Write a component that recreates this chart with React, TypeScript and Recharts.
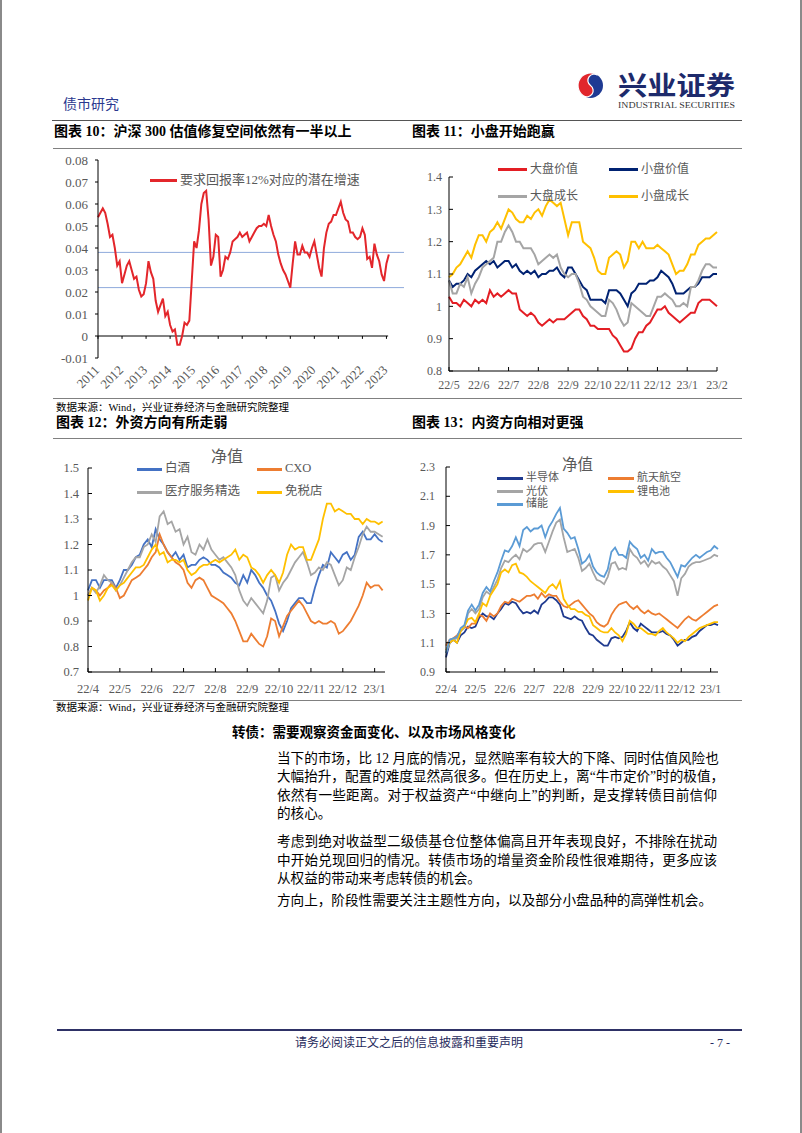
import React from 'react';
import { LineChart, Line, XAxis, YAxis, ReferenceLine } from 'recharts';

const SERIF = "'Liberation Serif', 'Noto Sans CJK SC', serif";
const INK = '#000000';
const GREY = '#595959';

// ---------- 图表10：沪深300估值修复空间 ----------
const years10 = ['2011', '2012', '2013', '2014', '2015', '2016', '2017', '2018', '2019', '2020', '2021', '2022', '2023'];
const yearTicks10 = [0, 10, 20, 30, 40, 50, 60, 70, 80, 90, 100, 110, 120];
// 每 0.1 年读一个点
const growth10 = [
  0.054, 0.056, 0.058, 0.056, 0.051, 0.045, 0.046, 0.040, 0.032, 0.034,
  0.024, 0.028, 0.032, 0.034, 0.030, 0.026, 0.027, 0.021, 0.018, 0.019,
  0.024, 0.034, 0.029, 0.026, 0.016, 0.011, 0.014, 0.017, 0.009, 0.011,
  0.005, 0.002, 0.003, -0.004, -0.004, 0.000, 0.006, 0.005, 0.007, 0.025,
  0.043, 0.040, 0.048, 0.060, 0.065, 0.066, 0.053, 0.032, 0.036, 0.046,
  0.045, 0.027, 0.030, 0.036, 0.035, 0.038, 0.043, 0.044, 0.045, 0.047,
  0.045, 0.046, 0.047, 0.043, 0.045, 0.047, 0.049, 0.050, 0.050, 0.051,
  0.050, 0.055, 0.050, 0.046, 0.043, 0.037, 0.033, 0.030, 0.028, 0.025,
  0.022, 0.033, 0.043, 0.037, 0.037, 0.041, 0.038, 0.038, 0.036, 0.040,
  0.043, 0.037, 0.031, 0.027, 0.040, 0.047, 0.051, 0.052, 0.055, 0.055,
  0.058, 0.061, 0.056, 0.053, 0.052, 0.047, 0.047, 0.045, 0.044, 0.045,
  0.049, 0.046, 0.035, 0.036, 0.031, 0.042, 0.037, 0.034, 0.028, 0.025,
  0.033, 0.037,
];
const yTicks10 = [-0.01, 0, 0.01, 0.02, 0.03, 0.04, 0.05, 0.06, 0.07, 0.08];
const yLabels10 = ['-0.01', '0', '0.01', '0.02', '0.03', '0.04', '0.05', '0.06', '0.07', '0.08'];
const refLevels10 = [0.038, 0.022];

// ---------- 图表11：小盘开始跑赢 ----------
const months11 = ['22/5', '22/6', '22/7', '22/8', '22/9', '22/10', '22/11', '22/12', '23/1', '23/2'];
const monthTicks11 = [0, 8, 16, 24, 32, 40, 48, 56, 64, 72];
// 每月 8 个点
const largeValue11 = [
  1.03, 1.01, 1.01, 1.00, 1.02, 1.01, 1.00, 1.02, 1.01, 1.02,
  1.01, 1.05, 1.03, 1.04, 1.03, 1.04, 1.05, 1.04, 1.04, 0.99,
  0.98, 0.97, 0.98, 0.97, 0.95, 0.94, 0.95, 0.96, 0.95, 0.96,
  0.96, 0.96, 0.97, 0.98, 0.99, 0.99, 0.97, 0.96, 0.94, 0.94,
  0.93, 0.93, 0.93, 0.93, 0.91, 0.90, 0.88, 0.86, 0.86, 0.87,
  0.90, 0.92, 0.92, 0.94, 0.95, 0.97, 0.99, 0.99, 1.00, 0.98,
  0.97, 0.96, 0.95, 0.96, 0.97, 0.98, 0.98, 1.01, 1.02, 1.02,
  1.02, 1.01, 1.00,
];
const smallValue11 = [
  1.08, 1.06, 1.07, 1.07, 1.08, 1.10, 1.09, 1.11, 1.12, 1.13,
  1.14, 1.13, 1.14, 1.12, 1.13, 1.14, 1.14, 1.12, 1.13, 1.11,
  1.10, 1.11, 1.10, 1.11, 1.09, 1.10, 1.10, 1.11, 1.11, 1.12,
  1.10, 1.09, 1.12, 1.12, 1.10, 1.08, 1.06, 1.05, 1.02, 1.02,
  1.02, 1.02, 1.01, 1.05, 1.05, 1.05, 1.04, 1.02, 1.00, 1.04,
  1.05, 1.07, 1.07, 1.07, 1.08, 1.08, 1.09, 1.11, 1.10, 1.09,
  1.07, 1.04, 1.04, 1.04, 1.05, 1.06, 1.06, 1.07, 1.09, 1.09,
  1.09, 1.10, 1.10,
];
const largeGrowth11 = [
  1.08, 1.04, 1.04, 1.07, 1.06, 1.09, 1.04, 1.07, 1.09, 1.12,
  1.13, 1.14, 1.15, 1.20, 1.20, 1.23, 1.25, 1.23, 1.20, 1.20,
  1.18, 1.18, 1.18, 1.16, 1.13, 1.14, 1.15, 1.16, 1.15, 1.16,
  1.12, 1.10, 1.09, 1.10, 1.10, 1.07, 1.03, 1.02, 1.00, 0.99,
  0.98, 0.97, 0.97, 1.02, 1.01, 0.99, 0.96, 0.94, 0.95, 1.01,
  1.00, 0.99, 0.98, 0.97, 0.97, 1.00, 1.03, 1.03, 1.04, 1.03,
  1.02, 1.00, 1.00, 1.01, 1.00, 1.06, 1.06, 1.08, 1.11, 1.13,
  1.13, 1.12, 1.12,
];
const smallGrowth11 = [
  1.09, 1.10, 1.12, 1.13, 1.15, 1.17, 1.15, 1.19, 1.22, 1.22,
  1.20, 1.23, 1.24, 1.26, 1.24, 1.27, 1.30, 1.29, 1.27, 1.26,
  1.26, 1.28, 1.27, 1.29, 1.30, 1.28, 1.31, 1.33, 1.32, 1.31,
  1.32, 1.27, 1.22, 1.26, 1.26, 1.26, 1.20, 1.19, 1.18, 1.15,
  1.11, 1.10, 1.10, 1.15, 1.16, 1.17, 1.16, 1.12, 1.14, 1.20,
  1.20, 1.18, 1.20, 1.18, 1.18, 1.18, 1.19, 1.18, 1.17, 1.16,
  1.13, 1.10, 1.11, 1.11, 1.13, 1.16, 1.16, 1.19, 1.20, 1.21,
  1.21, 1.22, 1.23,
];
const yTicks11 = [0.8, 0.9, 1, 1.1, 1.2, 1.3, 1.4];
const yLabels11 = ['0.8', '0.9', '1', '1.1', '1.2', '1.3', '1.4'];

// ---------- 图表12：外资方向 ----------
const months12 = ['22/4', '22/5', '22/6', '22/7', '22/8', '22/9', '22/10', '22/11', '22/12', '23/1'];
const monthTicks12 = [0, 8, 16, 24, 32, 40, 48, 56, 64, 72];
const baijiu12 = [
  1.02, 1.06, 1.06, 1.03, 1.06, 1.06, 1.06, 1.03, 1.06, 1.10,
  1.10, 1.12, 1.15, 1.16, 1.20, 1.22, 1.19, 1.26, 1.22, 1.20,
  1.17, 1.15, 1.17, 1.14, 1.16, 1.11, 1.12, 1.12, 1.14, 1.15,
  1.14, 1.12, 1.12, 1.11, 1.09, 1.08, 1.07, 1.05, 1.04, 1.08,
  1.05, 1.10, 1.08, 1.05, 1.03, 1.00, 0.98, 0.94, 0.89, 0.86,
  0.90, 0.95, 0.97, 0.99, 0.99, 0.97, 0.97, 1.03, 1.08, 1.12,
  1.11, 1.17, 1.15, 1.13, 1.16, 1.17, 1.14, 1.16, 1.23, 1.25,
  1.22, 1.22, 1.24, 1.22, 1.21,
];
const cxo12 = [
  1.00, 1.03, 1.02, 1.00, 1.02, 1.03, 1.05, 1.03, 0.99, 1.00,
  1.03, 1.06, 1.07, 1.08, 1.10, 1.12, 1.15, 1.17, 1.24, 1.20,
  1.17, 1.15, 1.13, 1.12, 1.10, 1.05, 1.03, 1.06, 1.07, 1.06,
  1.03, 1.00, 0.99, 0.98, 0.97, 0.95, 0.93, 0.90, 0.86, 0.82,
  0.82, 0.85, 0.83, 0.81, 0.80, 0.84, 0.91, 0.90, 0.84, 0.88,
  0.92, 0.94, 0.96, 0.98, 0.96, 0.93, 0.90, 0.89, 0.90, 0.89,
  0.89, 0.90, 0.89, 0.85, 0.86, 0.88, 0.90, 0.93, 0.96, 1.00,
  1.05, 1.03, 1.04, 1.04, 1.02,
];
const medical12 = [
  1.00, 1.03, 1.01, 1.04, 1.08, 1.06, 1.05, 1.02, 1.04, 1.07,
  1.10, 1.13, 1.15, 1.15, 1.19, 1.20, 1.24, 1.21, 1.31, 1.33,
  1.28, 1.29, 1.25, 1.26, 1.20, 1.23, 1.17, 1.16, 1.20, 1.18,
  1.22, 1.18, 1.16, 1.14, 1.15, 1.13, 1.11, 1.08, 1.02, 0.98,
  0.96, 0.99, 0.97, 0.95, 0.93, 0.98, 1.07, 1.08, 1.02, 1.05,
  1.07, 1.10, 1.13, 1.15, 1.17, 1.13, 1.08, 1.09, 1.11, 1.10,
  1.13, 1.12, 1.08, 1.04, 1.06, 1.11, 1.10, 1.15, 1.19, 1.24,
  1.27, 1.25, 1.25, 1.24, 1.23,
];
const dutyFree12 = [
  0.98, 1.03, 1.02, 0.98, 1.00, 1.03, 1.04, 1.02, 1.04, 1.05,
  1.07, 1.09, 1.11, 1.11, 1.12, 1.15, 1.18, 1.20, 1.16, 1.17,
  1.13, 1.14, 1.14, 1.13, 1.14, 1.10, 1.08, 1.09, 1.11, 1.12,
  1.12, 1.13, 1.14, 1.13, 1.14, 1.15, 1.16, 1.18, 1.14, 1.16,
  1.15, 1.11, 1.10, 1.08, 1.05, 1.08, 1.10, 1.08, 1.05, 1.09,
  1.16, 1.20, 1.18, 1.19, 1.19, 1.14, 1.14, 1.18, 1.22, 1.30,
  1.36, 1.36, 1.33, 1.34, 1.33, 1.32, 1.32, 1.30, 1.30, 1.28,
  1.30, 1.29, 1.29, 1.28, 1.29,
];
const yTicks12 = [0.7, 0.8, 0.9, 1, 1.1, 1.2, 1.3, 1.4, 1.5];
const yLabels12 = ['0.7', '0.8', '0.9', '1', '1.1', '1.2', '1.3', '1.4', '1.5'];

// ---------- 图表13：内资方向 ----------
const months13 = ['22/4', '22/5', '22/6', '22/7', '22/8', '22/9', '22/10', '22/11', '22/12', '23/1'];
const monthTicks13 = [0, 8, 16, 24, 32, 40, 48, 56, 64, 72];
const semis13 = [
  1.00, 1.10, 1.12, 1.10, 1.15, 1.17, 1.21, 1.20, 1.21, 1.27,
  1.30, 1.28, 1.28, 1.26, 1.30, 1.33, 1.37, 1.36, 1.38, 1.37,
  1.33, 1.30, 1.31, 1.30, 1.32, 1.30, 1.36, 1.38, 1.41, 1.41,
  1.39, 1.36, 1.28, 1.27, 1.26, 1.28, 1.26, 1.25, 1.20, 1.16,
  1.15, 1.12, 1.10, 1.08, 1.08, 1.13, 1.14, 1.13, 1.14, 1.18,
  1.24, 1.20, 1.18, 1.23, 1.21, 1.19, 1.17, 1.17, 1.17, 1.18,
  1.16, 1.15, 1.12, 1.08, 1.10, 1.12, 1.12, 1.14, 1.15, 1.18,
  1.20, 1.22, 1.22, 1.23, 1.22,
];
const aero13 = [
  1.08, 1.12, 1.13, 1.15, 1.18, 1.21, 1.20, 1.23, 1.23, 1.29,
  1.28, 1.25, 1.30, 1.28, 1.30, 1.35, 1.38, 1.37, 1.40, 1.39,
  1.38, 1.40, 1.42, 1.42, 1.43, 1.40, 1.44, 1.41, 1.43, 1.42,
  1.42, 1.38, 1.35, 1.34, 1.36, 1.38, 1.39, 1.36, 1.33, 1.30,
  1.28, 1.24, 1.22, 1.21, 1.23, 1.29, 1.33, 1.36, 1.37, 1.38,
  1.35, 1.33, 1.35, 1.32, 1.30, 1.32, 1.30, 1.29, 1.30, 1.28,
  1.26, 1.24, 1.22, 1.20, 1.23, 1.26, 1.28, 1.26, 1.25, 1.27,
  1.29, 1.31, 1.33, 1.35, 1.36,
];
const pv13 = [
  1.03, 1.10, 1.12, 1.13, 1.18, 1.20, 1.30, 1.33, 1.30, 1.33,
  1.41, 1.45, 1.43, 1.48, 1.53, 1.61, 1.66, 1.65, 1.68, 1.70,
  1.67, 1.74, 1.72, 1.74, 1.77, 1.78, 1.78, 1.72, 1.79, 1.86,
  1.92, 1.94, 1.82, 1.72, 1.73, 1.74, 1.68, 1.59, 1.61, 1.64,
  1.58, 1.53, 1.52, 1.50, 1.55, 1.64, 1.65, 1.60, 1.61, 1.60,
  1.74, 1.70, 1.68, 1.64, 1.66, 1.62, 1.66, 1.64, 1.65, 1.62,
  1.60, 1.56, 1.52, 1.42, 1.54, 1.57, 1.62, 1.64, 1.65, 1.65,
  1.66, 1.67, 1.68, 1.70, 1.69,
];
const battery13 = [
  1.05, 1.10, 1.12, 1.10, 1.18, 1.21, 1.26, 1.27, 1.24, 1.30,
  1.37, 1.35, 1.42, 1.46, 1.50, 1.58, 1.60, 1.58, 1.63, 1.64,
  1.58, 1.57, 1.55, 1.52, 1.50, 1.48, 1.46, 1.44, 1.48, 1.50,
  1.47, 1.52, 1.40, 1.36, 1.33, 1.33, 1.31, 1.31, 1.29, 1.28,
  1.22, 1.20, 1.18, 1.17, 1.17, 1.20, 1.17, 1.15, 1.11, 1.16,
  1.25, 1.23, 1.20, 1.20, 1.18, 1.16, 1.16, 1.15, 1.18, 1.20,
  1.17, 1.15, 1.13, 1.10, 1.12, 1.11, 1.14, 1.16, 1.18, 1.20,
  1.21, 1.22, 1.23, 1.24, 1.24,
];
const storage13 = [
  1.03, 1.12, 1.13, 1.14, 1.20, 1.22, 1.32, 1.36, 1.32, 1.36,
  1.44, 1.48, 1.45, 1.52, 1.58, 1.66, 1.73, 1.72, 1.76, 1.82,
  1.76, 1.87, 1.89, 1.86, 1.88, 1.88, 1.90, 1.82, 1.89, 1.93,
  1.98, 2.02, 1.88, 1.85, 1.81, 1.82, 1.74, 1.64, 1.66, 1.70,
  1.62, 1.58, 1.56, 1.55, 1.60, 1.72, 1.75, 1.70, 1.70, 1.68,
  1.79, 1.76, 1.74, 1.68, 1.70, 1.66, 1.74, 1.71, 1.72, 1.72,
  1.68, 1.65, 1.60, 1.55, 1.63, 1.62, 1.65, 1.68, 1.70, 1.68,
  1.70, 1.72, 1.73, 1.76, 1.74,
];
const yTicks13 = [0.9, 1.1, 1.3, 1.5, 1.7, 1.9, 2.1, 2.3];
const yLabels13 = ['0.9', '1.1', '1.3', '1.5', '1.7', '1.9', '2.1', '2.3'];

const rows10 = growth10.map((v, i) => ({ i, v }));
const rows11 = largeValue11.map((v, i) => ({ i, lv: v, sv: smallValue11[i], lg: largeGrowth11[i], sg: smallGrowth11[i] }));
const rows12 = baijiu12.map((v, i) => ({ i, bj: v, cxo: cxo12[i], med: medical12[i], df: dutyFree12[i] }));
const rows13 = semis13.map((v, i) => ({ i, se: v, ae: aero13[i], pv: pv13[i], ba: battery13[i], st: storage13[i] }));

// x 轴刻度朝内
const xTickIn = (labels: string[], step: number, size: number, off: number) => (p: any) => {
  const { x, y, payload } = p;
  return (
    <g>
      <line x1={x} x2={x} y1={y} y2={y - 4} stroke={INK} />
      <text x={x} y={y + off} textAnchor="middle" fontSize={size} fontFamily={SERIF} fill={GREY}>
        {labels[Math.round(payload.value / step)]}
      </text>
    </g>
  );
};

const yTickIn = (ticks: number[], labels: string[], size: number, gap: number) => (p: any) => {
  const { x, y, payload } = p;
  return (
    <g>
      <line x1={x} x2={x + 4} y1={y} y2={y} stroke={INK} />
      <text x={x - gap} y={y} dy={size * 0.35} textAnchor="end" fontSize={size} fontFamily={SERIF} fill={GREY}>
        {labels[ticks.indexOf(payload.value)]}
      </text>
    </g>
  );
};

const yearTick = (p: any) => {
  const { x, y, payload } = p;
  const ax = x + 2;
  const ay = y + 13;
  return (
    <text x={ax} y={ay} textAnchor="end" fontSize={13} fontFamily={SERIF} fill={GREY} transform={`rotate(-45, ${ax}, ${ay})`}>
      {years10[Math.round(payload.value / 10)]}
    </text>
  );
};

type LegendItem = { label: string; color: string; x: number; y: number };

function LegendOverlay({ items, size, len }: { items: LegendItem[]; size: number; len: number }) {
  return (
    <>
      {items.map((it) => (
        <React.Fragment key={it.label}>
          <div style={{ position: 'absolute', left: it.x, top: it.y - 1.5, width: len, height: 3, background: it.color }} />
          <div
            style={{
              position: 'absolute', left: it.x + len + 3, top: it.y - size * 0.7, fontSize: size,
              lineHeight: `${size * 1.4}px`, fontFamily: SERIF, color: GREY, whiteSpace: 'nowrap',
            }}
          >
            {it.label}
          </div>
        </React.Fragment>
      ))}
    </>
  );
}

function Txt({ x, cy, size, children, bold, color = '#000', width, justify }: any) {
  const lh = Math.round(size * 1.4);
  return (
    <div
      style={{
        position: 'absolute', left: x, top: cy - lh / 2, fontSize: size, lineHeight: `${lh}px`,
        fontFamily: SERIF, fontWeight: bold ? 700 : 400, color, whiteSpace: 'nowrap', width,
        textAlign: justify ? 'justify' : 'left', textAlignLast: justify ? 'justify' : 'auto',
      }}
    >
      {children}
    </div>
  );
}

function Rule({ x1, x2, y, t = 1, color = '#808080' }: any) {
  return <div style={{ position: 'absolute', left: x1, top: y - t / 2, width: x2 - x1, height: t, background: color }} />;
}

const para1 = [
  '当下的市场，比 12 月底的情况，显然赔率有较大的下降、同时估值风险也',
  '大幅抬升，配置的难度显然高很多。但在历史上，离“牛市定价”时的极值，',
  '依然有一些距离。对于权益资产“中继向上”的判断，是支撑转债目前信仰',
  '的核心。',
];
const para2 = [
  '考虑到绝对收益型二级债基仓位整体偏高且开年表现良好，不排除在扰动',
  '中开始兑现回归的情况。转债市场的增量资金阶段性很难期待，更多应该',
  '从权益的带动来考虑转债的机会。',
];
const para3 = ['方向上，阶段性需要关注主题性方向，以及部分小盘品种的高弹性机会。'];

export default function App() {
  return (
    <div style={{ position: 'absolute', left: 0, top: 0, width: 802, height: 1133, background: '#fff', overflow: 'hidden' }}>
      {/* page frame */}
      <div style={{ position: 'absolute', left: 0, top: 0, width: 1.5, height: 1133, background: '#8a8a8a' }} />
      <div style={{ position: 'absolute', left: 800, top: 0, width: 1.5, height: 1133, background: '#8a8a8a' }} />

      {/* header */}
      <svg style={{ position: 'absolute', left: 0, top: 0 }} width={802} height={120}>
        <circle cx={590.5} cy={85.5} r={12.5} fill="#1F3A93" />
        <g transform="rotate(35, 590.5, 85.5)">
          <path
            d="M 590.5 73 A 12.5 12.5 0 0 0 590.5 98 A 6.25 6.25 0 0 0 590.5 85.5 A 6.25 6.25 0 0 1 590.5 73 Z"
            fill="#E1262C" stroke="#fff" strokeWidth={1.2}
          />
        </g>
        <text x={618} y={95} fontSize={26} fontWeight={700} fill="#1D2A6B" fontFamily="'Noto Sans CJK SC'" textLength={117} lengthAdjust="spacingAndGlyphs">
          兴业证券
        </text>
        <text x={618} y={108} fontSize={8} fill="#333" fontFamily="'Liberation Serif'" textLength={117} lengthAdjust="spacingAndGlyphs">
          INDUSTRIAL SECURITIES
        </text>
      </svg>
      <Txt x={63} cy={105} size={14} color="#2B3990">债市研究</Txt>
      <Rule x1={52} x2={742} y={120.5} t={1.5} color="#555" />
      <Txt x={54} cy={132} size={14} bold>图表 10：沪深 300 估值修复空间依然有一半以上</Txt>
      <Txt x={412} cy={132} size={14} bold>图表 11：小盘开始跑赢</Txt>
      <Rule x1={53} x2={742} y={148} />

      {/* 图表10 */}
      <div style={{ position: 'absolute', left: 56, top: 150 }}>
        <LineChart width={348} height={250} data={rows10} margin={{ top: 10, right: 0, bottom: 0, left: 0 }}>
          <XAxis
            dataKey="i" type="number" domain={[0, 127.3]} ticks={yearTicks10} interval={0}
            axisLine={false} tickLine={false} tickSize={0} tickMargin={0} height={42} tick={yearTick}
          />
          <YAxis
            type="number" domain={[-0.01, 0.08]} ticks={yTicks10} interval={0} width={42}
            axisLine={{ stroke: INK }} tickLine={{ stroke: INK }} tickSize={3} tickMargin={7}
            tick={{ fill: GREY, fontSize: 13, fontFamily: SERIF }}
            tickFormatter={(v: number) => yLabels10[yTicks10.indexOf(v)]}
          />
          {refLevels10.map((lv) => (
            <ReferenceLine key={lv} y={lv} stroke="#8FAADC" strokeWidth={1} />
          ))}
          <ReferenceLine segment={[{ x: 0, y: 0 }, { x: 120.7, y: 0 }]} stroke={INK} />
          {yearTicks10.map((t) => (
            <ReferenceLine key={t} segment={[{ x: t, y: 0 }, { x: t, y: -0.0013 }]} stroke={INK} />
          ))}
          <Line dataKey="v" stroke="#E3262B" strokeWidth={2} dot={false} isAnimationActive={false} />
        </LineChart>
      </div>
      <LegendOverlay size={13} len={27} items={[{ label: '要求回报率12%对应的潜在增速', color: '#E3262B', x: 150, y: 180 }]} />

      {/* 图表11 */}
      <div style={{ position: 'absolute', left: 400, top: 155 }}>
        <LineChart width={330} height={240} data={rows11} margin={{ top: 22, right: 13, bottom: 4, left: 0 }}>
          <XAxis
            dataKey="i" type="number" domain={[0, 72]} ticks={monthTicks11} interval={0}
            axisLine={{ stroke: INK }} tickLine={false} tickSize={0} tickMargin={0} height={20}
            tick={xTickIn(months11, 8, 12, 18)}
          />
          <YAxis
            type="number" domain={[0.8, 1.4]} ticks={yTicks11} interval={0} width={49}
            axisLine={{ stroke: INK }} tickLine={false} tickSize={0} tickMargin={0}
            tick={yTickIn(yTicks11, yLabels11, 12, 7)}
          />
          <Line dataKey="lv" stroke="#E31E24" strokeWidth={2} dot={false} isAnimationActive={false} />
          <Line dataKey="sv" stroke="#002272" strokeWidth={2} dot={false} isAnimationActive={false} />
          <Line dataKey="lg" stroke="#A5A5A5" strokeWidth={2} dot={false} isAnimationActive={false} />
          <Line dataKey="sg" stroke="#FFC000" strokeWidth={2} dot={false} isAnimationActive={false} />
        </LineChart>
      </div>
      <LegendOverlay
        size={12} len={29}
        items={[
          { label: '大盘价值', color: '#E31E24', x: 498, y: 169 },
          { label: '小盘价值', color: '#002272', x: 609, y: 169 },
          { label: '大盘成长', color: '#A5A5A5', x: 498, y: 196 },
          { label: '小盘成长', color: '#FFC000', x: 609, y: 196 },
        ]}
      />

      <Rule x1={53} x2={742} y={398} />
      <Txt x={56} cy={407} size={10.5}>数据来源：Wind，兴业证券经济与金融研究院整理</Txt>
      <Txt x={56} cy={423} size={14} bold>图表 12：外资方向有所走弱</Txt>
      <Txt x={412} cy={423} size={14} bold>图表 13：内资方向相对更强</Txt>
      <Rule x1={53} x2={742} y={438} />

      {/* 图表12 */}
      <div style={{ position: 'absolute', left: 39, top: 445 }}>
        <LineChart width={356} height={255} data={rows12} margin={{ top: 23, right: 10, bottom: 4, left: 0 }}>
          <XAxis
            dataKey="i" type="number" domain={[0, 74.6]} ticks={monthTicks12} interval={0}
            axisLine={{ stroke: INK }} tickLine={false} tickSize={0} tickMargin={0} height={24}
            tick={xTickIn(months12, 8, 12.5, 21)}
          />
          <YAxis
            type="number" domain={[0.7, 1.5]} ticks={yTicks12} interval={0} width={49}
            axisLine={{ stroke: INK }} tickLine={false} tickSize={0} tickMargin={0}
            tick={yTickIn(yTicks12, yLabels12, 12.5, 9)}
          />
          <Line dataKey="bj" stroke="#4472C4" strokeWidth={1.8} dot={false} isAnimationActive={false} />
          <Line dataKey="cxo" stroke="#ED7D31" strokeWidth={1.8} dot={false} isAnimationActive={false} />
          <Line dataKey="med" stroke="#A5A5A5" strokeWidth={1.8} dot={false} isAnimationActive={false} />
          <Line dataKey="df" stroke="#FFC000" strokeWidth={1.8} dot={false} isAnimationActive={false} />
        </LineChart>
      </div>
      <Txt x={211} cy={457} size={16} color={GREY}>净值</Txt>
      <LegendOverlay
        size={12.5} len={25}
        items={[
          { label: '白酒', color: '#4472C4', x: 137, y: 469 },
          { label: 'CXO', color: '#ED7D31', x: 257, y: 469 },
          { label: '医疗服务精选', color: '#A5A5A5', x: 137, y: 492 },
          { label: '免税店', color: '#FFC000', x: 257, y: 492 },
        ]}
      />

      {/* 图表13 */}
      <div style={{ position: 'absolute', left: 400, top: 445 }}>
        <LineChart width={330} height={255} data={rows13} margin={{ top: 22, right: 12, bottom: 4, left: 0 }}>
          <XAxis
            dataKey="i" type="number" domain={[0, 74]} ticks={monthTicks13} interval={0}
            axisLine={{ stroke: INK }} tickLine={false} tickSize={0} tickMargin={0} height={24}
            tick={xTickIn(months13, 8, 12, 20.5)}
          />
          <YAxis
            type="number" domain={[0.9, 2.3]} ticks={yTicks13} interval={0} width={46}
            axisLine={{ stroke: INK }} tickLine={false} tickSize={0} tickMargin={0}
            tick={yTickIn(yTicks13, yLabels13, 12, 11)}
          />
          <Line dataKey="se" stroke="#1F3A8F" strokeWidth={1.8} dot={false} isAnimationActive={false} />
          <Line dataKey="ae" stroke="#ED7D31" strokeWidth={1.8} dot={false} isAnimationActive={false} />
          <Line dataKey="pv" stroke="#A5A5A5" strokeWidth={1.8} dot={false} isAnimationActive={false} />
          <Line dataKey="ba" stroke="#FFC000" strokeWidth={1.8} dot={false} isAnimationActive={false} />
          <Line dataKey="st" stroke="#5B9BD5" strokeWidth={1.8} dot={false} isAnimationActive={false} />
        </LineChart>
      </div>
      <Txt x={562} cy={465} size={15.5} color={GREY}>净值</Txt>
      <LegendOverlay
        size={11} len={26}
        items={[
          { label: '半导体', color: '#1F3A8F', x: 497, y: 478 },
          { label: '航天航空', color: '#ED7D31', x: 608, y: 478 },
          { label: '光伏', color: '#A5A5A5', x: 497, y: 491.5 },
          { label: '锂电池', color: '#FFC000', x: 608, y: 491.5 },
          { label: '储能', color: '#5B9BD5', x: 497, y: 504 },
        ]}
      />

      <Rule x1={53} x2={742} y={700} />
      <Txt x={56} cy={707} size={10.5}>数据来源：Wind，兴业证券经济与金融研究院整理</Txt>

      {/* 正文 */}
      <Txt x={232} cy={732} size={13.5} bold>转债：需要观察资金面变化、以及市场风格变化</Txt>
      {para1.map((s, k) => (
        <Txt key={s} x={277} cy={758.3 + k * 18.35} size={13.6} width={440} justify={k < para1.length - 1}>{s}</Txt>
      ))}
      {para2.map((s, k) => (
        <Txt key={s} x={277} cy={841.7 + k * 18.35} size={13.6} width={440} justify={k < para2.length - 1}>{s}</Txt>
      ))}
      {para3.map((s) => (
        <Txt key={s} x={277} cy={900} size={13.6}>{s}</Txt>
      ))}

      {/* footer */}
      <Rule x1={57} x2={742} y={1030} t={2} color="#2E3166" />
      <Txt x={295} cy={1043} size={12} color="#1F2A5C">请务必阅读正文之后的信息披露和重要声明</Txt>
      <Txt x={710} cy={1043} size={12} color="#1F2A5C">- 7 -</Txt>
    </div>
  );
}
